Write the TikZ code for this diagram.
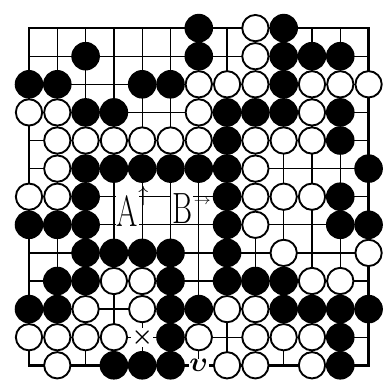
\documentclass[tikz,border=0pt]{standalone}
\usepackage{amsmath,amssymb,bm}
\usepackage{xcolor}
\usepackage{tikz}
\usetikzlibrary{positioning}
\definecolor{goInk}{RGB}{0,0,0}
\definecolor{goPaper}{RGB}{255,255,255}

\begin{document}
\begin{tikzpicture}[x=1cm,y=-0.993cm,
  bstone/.style={circle,draw=goInk,fill=goInk,line width=1.4pt,minimum size=0.96cm,inner sep=0pt},
  wstone/.style={circle,draw=goInk,fill=goPaper,line width=1.9pt,minimum size=0.93cm,inner sep=0pt},
  bigletter/.style={fill=goPaper,inner sep=1pt,font=\fontsize{44}{44}\selectfont},
  smallarrow/.style={inner sep=0pt},
  pointmark/.style={fill=goPaper,inner sep=0.5pt}]
\useasboundingbox (-1.025,-1.0) rectangle (12.545,12.57);
% grid
\foreach \i in {1,...,11} {
  \draw[goInk, line width=1.3pt] (\i,0) -- (\i,12);
  \draw[goInk, line width=1.3pt] (0,\i) -- (12,\i);
}
\draw[goInk, line width=2.6pt] (0,0) rectangle (12,12);
% black stones
\foreach \c/\r in {6/0,9/0,
  2/1,6/1,9/1,10/1,11/1,
  0/2,1/2,4/2,5/2,9/2,
  2/3,3/3,7/3,8/3,9/3,11/3,
  7/4,11/4,
  2/5,3/5,4/5,5/5,6/5,7/5,12/5,
  2/6,7/6,11/6,
  0/7,1/7,2/7,7/7,11/7,12/7,
  2/8,3/8,4/8,5/8,7/8,
  1/9,2/9,5/9,7/9,8/9,9/9,
  0/10,1/10,5/10,6/10,9/10,10/10,11/10,12/10,
  5/11,11/11,
  3/12,4/12,5/12,11/12}
  \node[bstone] (b-\c-\r) at (\c,\r) {};
% white stones
\foreach \c/\r in {8/0,
  8/1,
  6/2,7/2,8/2,10/2,11/2,12/2,
  0/3,1/3,6/3,10/3,
  1/4,2/4,3/4,4/4,5/4,6/4,8/4,9/4,10/4,
  1/5,8/5,
  0/6,1/6,8/6,9/6,10/6,
  8/7,
  9/8,12/8,
  3/9,4/9,10/9,11/9,
  2/10,4/10,7/10,8/10,
  0/11,1/11,2/11,3/11,6/11,8/11,9/11,10/11,
  1/12,7/12,8/12,10/12}
  \node[wstone] (w-\c-\r) at (\c,\r) {};
% labels
\node[bigletter, anchor=base] (lblA) at (3.48,7.05) {\scalebox{0.7}[1]{A}};
\node[smallarrow, anchor=south west] (arrA) at ([xshift=-1pt,yshift=-12pt]lblA.north east) {\scalebox{2}[2.2]{$\uparrow$}};
\node[bigletter, anchor=base] (lblB) at (5.42,6.95) {\scalebox{0.7}[1]{B}};
\node[smallarrow, anchor=west] (arrB) at ([yshift=-10pt]lblB.north east) {\scalebox{1.7}[1.5]{$\rightarrow$}};
\node[pointmark] (markx) at (4,11) {\scalebox{2.4}{$\bm{\times}$}};
\node[pointmark] (marky) at (6,12) {\scalebox{2.8}{$\bm{\upsilon}$}};
\end{tikzpicture}
\end{document}
